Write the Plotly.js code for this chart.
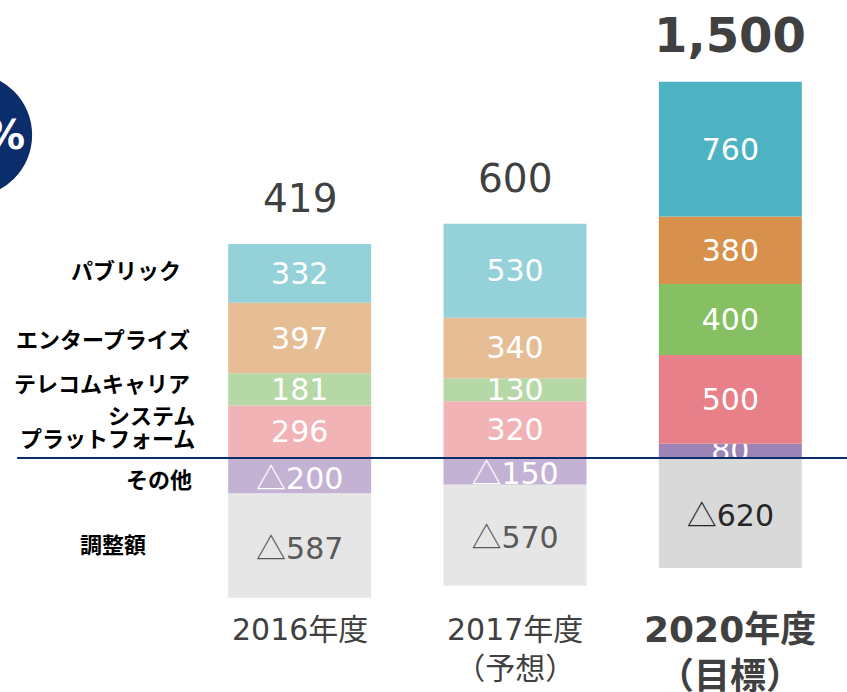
<!DOCTYPE html>
<html>
<head>
<meta charset="utf-8">
<script src="https://cdn.plot.ly/plotly-3.0.1.min.js"></script>
<style>html,body{margin:0;padding:0;background:#fff;}#chart{width:847px;height:692px;}</style>
</head>
<body>
<div id="chart"></div>
<script>
// ---- data ----
const categories = ['2016年度', '2017年度', '2020年度'];
const categoryLabels = ['2016年度', '2017年度<br>（予想）', '<b>2020年度<br>（目標）</b>'];
const segmentNames = ['その他', 'システム<br>プラットフォーム', 'テレコムキャリア', 'エンタープライズ', 'パブリック', '調整額'];
const other = [-200, -150, 80];
const systemPlatform = [296, 320, 500];
const telecomCarrier = [181, 130, 400];
const enterprise = [397, 340, 380];
const publicSeg = [332, 530, 760];
const adjustment = [-587, -570, -620];

// ---- styles ----
const seriesValues = [other, systemPlatform, telecomCarrier, enterprise, publicSeg, adjustment];
const seriesColors = [
  ['#C4B2D4', '#C4B2D4', '#9D84B6'],
  ['#F1B3B5', '#F1B3B5', '#E8808A'],
  ['#B6D8A6', '#B6D8A6', '#86C063'],
  ['#E6BE96', '#E6BE96', '#D8914C'],
  ['#95D1D9', '#95D1D9', '#4DB3C2'],
  ['#E6E6E6', '#E6E6E6', '#D9D9D9']
];
const seriesTextColors = [
  ['#fff', '#fff', '#fff'], ['#fff', '#fff', '#fff'], ['#fff', '#fff', '#fff'],
  ['#fff', '#fff', '#fff'], ['#fff', '#fff', '#fff'],
  ['#595959', '#595959', '#262626']
];
const labelRightPx = [194, 197, 192, 192, 183, 148];
const labelLineShift = [[-2], [18, -5], [7], [0], [4], [3]];
const catFontSize = [30, 30, 36];
const catYShift = [-10, -10, -7];
const PLOT_L = 192, PLOT_W = 646.5, PLOT_H = 600;
const jpFont = 'Noto Sans CJK JP, sans-serif';
const numFont = 'DejaVu Sans, Noto Sans CJK JP, sans-serif';
const fmt = v => (v < 0 ? '<span style="font-family:Noto Sans CJK JP">△</span>' + Math.abs(v) : String(v));
const pxToPaperX = px => (px - PLOT_L) / PLOT_W;
const pxToPaperY = py => (PLOT_H - py) / PLOT_H;

const traces = seriesValues.map((vals, i) => ({
  type: 'bar',
  x: categories,
  y: vals,
  name: segmentNames[i],
  width: 0.664,
  marker: { color: seriesColors[i], line: { width: 0 } },
  text: vals.map(fmt),
  textposition: 'inside',
  insidetextanchor: 'middle',
  textangle: 0,
  constraintext: 'none',
  textfont: { family: numFont, size: 30, color: seriesTextColors[i] },
  hoverinfo: 'skip'
}));

const annotations = [];
// totals above bars and category labels below
categories.forEach((c, j) => {
  const pos = seriesValues.reduce((s, arr) => s + (arr[j] > 0 ? arr[j] : 0), 0);
  const net = seriesValues.reduce((s, arr) => s + arr[j], 0);
  const isTarget = j === 2;
  annotations.push({
    x: c, y: pos, xref: 'x', yref: 'y', yanchor: 'bottom', yshift: isTarget ? 17 : 21,
    text: isTarget ? '<b>' + net.toLocaleString('en-US') + '</b>' : net.toLocaleString('en-US'),
    showarrow: false,
    font: { family: numFont, size: isTarget ? 48 : 39, color: '#404040' }
  });
  annotations.push({
    x: c, y: 0, xref: 'x', yref: 'paper', yanchor: 'top', yshift: catYShift[j],
    text: categoryLabels[j], showarrow: false,
    font: { family: numFont, size: catFontSize[j], color: '#404040' }
  });
});
// left segment labels aligned with first bar's segments
let posCum = 0, negCum = 0;
seriesValues.forEach((arr, i) => {
  const v = arr[0];
  let mid;
  if (v >= 0) { mid = posCum + v / 2; posCum += v; } else { mid = negCum + v / 2; negCum += v; }
  segmentNames[i].split('<br>').forEach((line, k) => {
    annotations.push({
      x: pxToPaperX(labelRightPx[i]), xref: 'paper', xanchor: 'right',
      y: mid, yref: 'y', yanchor: 'middle', yshift: labelLineShift[i][k], align: 'right',
      text: '<b>' + line + '</b>', showarrow: false,
      font: { family: jpFont, size: 22, color: '#000' }
    });
  });
});
// % badge text
annotations.push({
  x: pxToPaperX(27), xref: 'paper', xanchor: 'right',
  y: pxToPaperY(135), yref: 'paper', yanchor: 'middle',
  text: '<b>%</b>', showarrow: false,
  font: { family: numFont, size: 40, color: '#fff' }
});

const layout = {
  width: 847, height: 692,
  margin: { l: PLOT_L, r: 847 - PLOT_L - PLOT_W, t: 0, b: 692 - PLOT_H },
  paper_bgcolor: '#fff', plot_bgcolor: '#fff',
  barmode: 'relative',
  showlegend: false,
  uniformtext: { mode: 'show', minsize: 30 },
  xaxis: { type: 'category', range: [-0.5, 2.5], showticklabels: false, showgrid: false, zeroline: false, showline: false, ticks: '', fixedrange: true },
  yaxis: { range: [-800, 2580.3], visible: false, showgrid: false, zeroline: false, fixedrange: true },
  shapes: [
    { type: 'circle', xref: 'paper', yref: 'paper', layer: 'below',
      x0: pxToPaperX(-92), x1: pxToPaperX(32), y0: pxToPaperY(197), y1: pxToPaperY(73),
      fillcolor: '#0B2D6B', line: { width: 0 } },
    { type: 'line', xref: 'paper', yref: 'y', layer: 'above',
      x0: pxToPaperX(17), x1: 1.05, y0: 0, y1: 0,
      line: { color: '#0B2D6B', width: 2 } }
  ],
  annotations: annotations
};

Plotly.newPlot('chart', traces, layout, { displayModeBar: false, staticPlot: true });
</script>
</body>
</html>
